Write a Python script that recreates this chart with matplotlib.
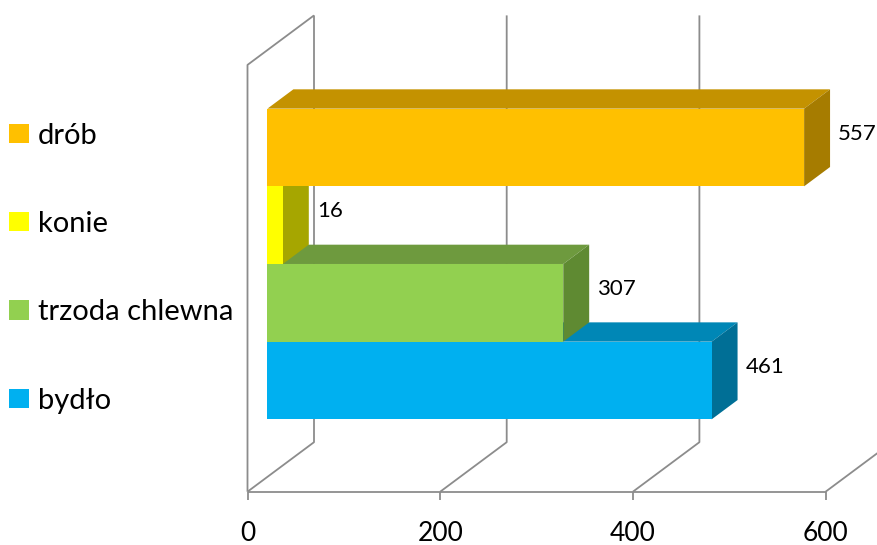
import matplotlib.pyplot as plt
from matplotlib.patches import Polygon, Patch

# data (bottom to top)
categories = ['bydło', 'trzoda chlewna', 'konie', 'drób']
values = [461, 307, 16, 557]
front_colors = ['#00B0F0', '#92D050', '#FFFF00', '#FFC000']
top_colors = ['#0087B6', '#6E9A3E', '#C4C400', '#C49200']
side_colors = ['#006F96', '#5F8A32', '#A6A600', '#A67C00']
ticks = [0, 200, 400, 600]

plt.rcParams['font.family'] = ['Lato', 'DejaVu Sans']

W, H = 877, 545
fig = plt.figure(figsize=(W / 100, H / 100), dpi=100)
ax = fig.add_axes([0, 0, 1, 1])
ax.set_axis_off()

# pixel layout of the fake 3d box
x0_px, px_per_val = 247.5, 0.9635
floor_px, px_per_cat = 491.7, 106.7
ax.set_xlim(-x0_px / px_per_val, (W - x0_px) / px_per_val)
ax.set_ylim((floor_px - H) / px_per_cat, floor_px / px_per_cat)

DX = 66.5 / px_per_val   # full depth, in value units
DY = 49.5 / px_per_cat   # full depth, in category units
wall_top = 4.0
d0, d1 = 0.30, 0.69      # bar depth span
base, bar_h = 0.539, 0.728

grid_kw = dict(color='#8C8C8C', lw=1.3, zorder=1, solid_capstyle='butt')

# walls / gridlines
ax.plot([0, 0, DX], [0, wall_top, wall_top + DY], **grid_kw)
ax.plot([ticks[0], ticks[-1]], [0, 0], **grid_kw)
for t in ticks:
    ax.plot([t, t + DX, t + DX], [0, DY, wall_top + DY], **grid_kw)
    ax.plot([t, t], [0, -8 / px_per_cat], **grid_kw)
    ax.text(t, -0.39, str(t), ha='center', va='center', fontsize=19)

# bars
for i, v in enumerate(values):
    yb = base + i * bar_h
    yt = yb + bar_h
    fx, fy = d0 * DX, d0 * DY
    bx, by = d1 * DX, d1 * DY
    top = [(fx, yt + fy), (v + fx, yt + fy), (v + bx, yt + by), (bx, yt + by)]
    side = [(v + fx, yb + fy), (v + bx, yb + by), (v + bx, yt + by), (v + fx, yt + fy)]
    front = [(fx, yb + fy), (v + fx, yb + fy), (v + fx, yt + fy), (fx, yt + fy)]
    for pts, c in ((top, top_colors[i]), (side, side_colors[i]), (front, front_colors[i])):
        ax.add_patch(Polygon(pts, closed=True, fc=c, ec='none', zorder=2 + i))
    dm = (d0 + d1) / 2
    ax.annotate(str(v), (v + bx, (yb + yt) / 2 + dm * DY), xytext=(8, 4),
                textcoords='offset pixels', ha='left', va='center', fontsize=16,
                zorder=10)

# legend (top to bottom)
handles = [Patch(fc=front_colors[i], ec='none') for i in range(len(values))][::-1]
ax.legend(handles, categories[::-1], loc='center left', bbox_to_anchor=(0.0, 0.508),
          frameon=False, fontsize=21, handlelength=0.69, handleheight=0.65,
          handletextpad=0.31, labelspacing=2.14, borderaxespad=0, borderpad=0.3)

fig.savefig('out.png', dpi=100)
